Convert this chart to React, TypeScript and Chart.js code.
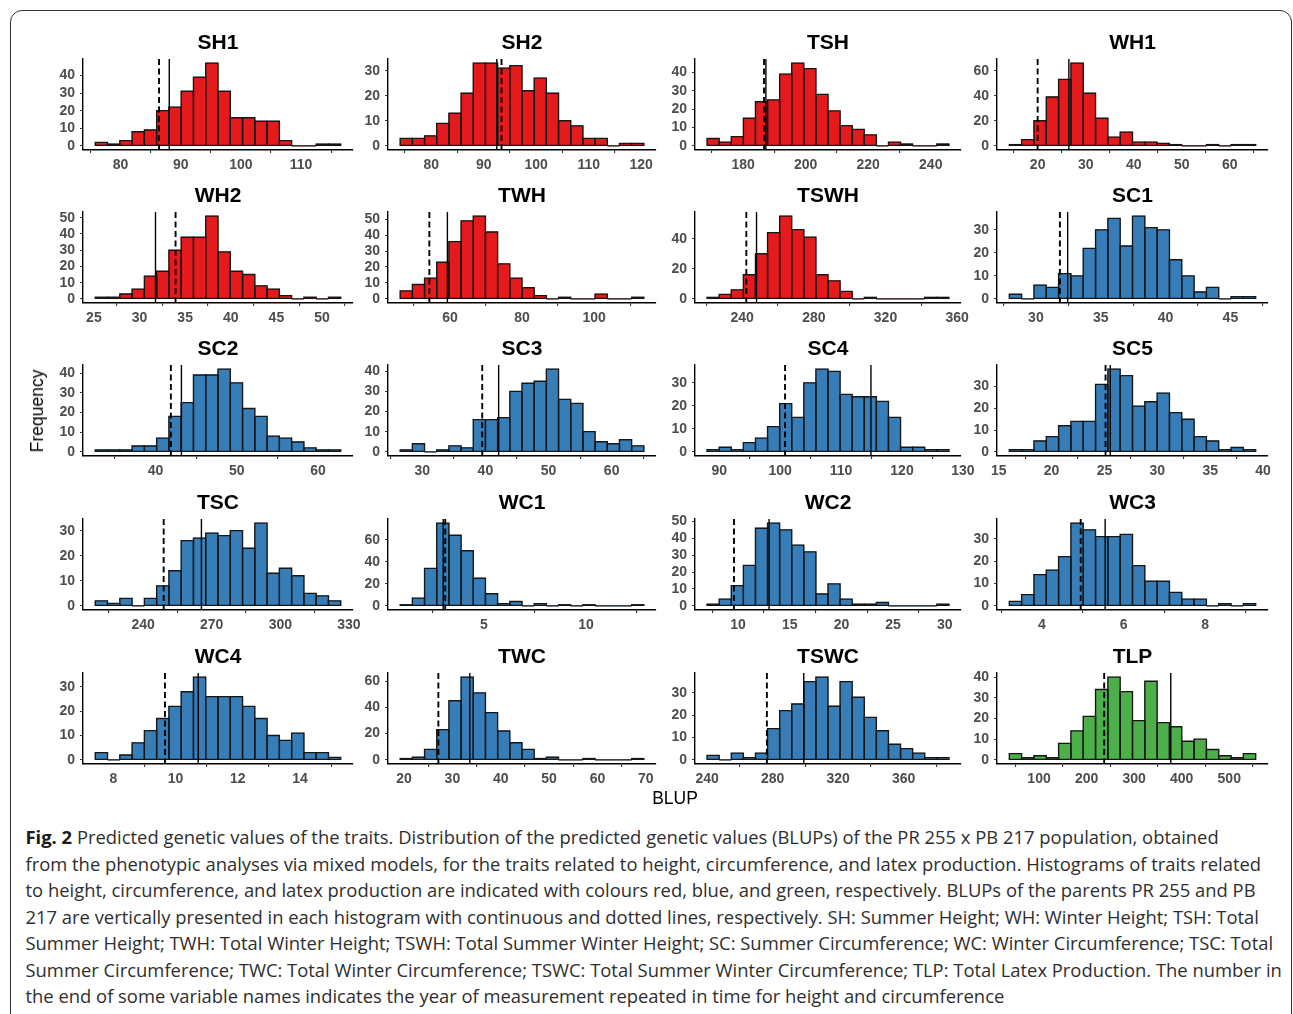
import React, { useEffect, useRef } from 'react';
import { Chart, registerables } from 'chart.js';

Chart.register(...registerables);

// ---------------- data ----------------
const TRAITS = ['SH1', 'SH2', 'TSH', 'WH1', 'WH2', 'TWH', 'TSWH', 'SC1', 'SC2', 'SC3', 'SC4', 'SC5', 'TSC', 'WC1', 'WC2', 'WC3', 'WC4', 'TWC', 'TSWC', 'TLP'];
const TRAIT_GROUP = ['height', 'height', 'height', 'height', 'height', 'height', 'height', 'circ', 'circ', 'circ', 'circ', 'circ', 'circ', 'circ', 'circ', 'circ', 'circ', 'circ', 'circ', 'latex'];

// bin counts (20 bins each)
const SH1 = [2, 1, 3, 8, 9, 20, 22, 31, 39, 47, 31, 16, 16, 14, 14, 3, 0, 0, 1, 1];
const SH2 = [3, 3, 4, 9, 13, 21, 33, 33, 31, 32, 22, 27, 21, 10, 8, 3, 3, 0, 1, 1];
const TSH = [4, 2, 5, 15, 24, 25, 39, 45, 42, 28, 19, 11, 9, 6, 0, 2, 1, 0, 0, 1];
const WH1 = [1, 5, 20, 39, 53, 66, 42, 22, 7, 11, 3, 3, 2, 1, 0, 0, 1, 0, 1, 1];
const WH2 = [1, 1, 3, 6, 14, 17, 30, 38, 38, 51, 29, 17, 15, 8, 6, 2, 0, 1, 0, 1];
const TWH = [5, 9, 13, 23, 36, 49, 52, 42, 22, 13, 7, 2, 0, 1, 0, 0, 3, 0, 0, 1];
const TSWH = [1, 3, 6, 16, 30, 44, 55, 46, 41, 16, 12, 5, 0, 1, 0, 0, 0, 0, 1, 1];
const SC1 = [2, 0, 6, 5, 11, 10, 22, 30, 35, 23, 36, 31, 30, 17, 10, 3, 5, 0, 1, 1];
const SC2 = [1, 1, 1, 3, 3, 7, 18, 25, 39, 39, 42, 35, 22, 18, 8, 7, 5, 2, 1, 1];
const SC3 = [1, 4, 0, 1, 3, 2, 16, 16, 17, 30, 34, 35, 41, 26, 24, 10, 5, 4, 6, 3];
const SC4 = [1, 2, 1, 4, 6, 11, 21, 15, 30, 36, 35, 25, 24, 24, 22, 15, 2, 2, 1, 1];
const SC5 = [1, 1, 5, 7, 12, 14, 14, 31, 38, 35, 21, 23, 27, 18, 15, 7, 5, 1, 2, 1];
const TSC = [2, 1, 3, 0, 3, 8, 14, 26, 27, 29, 28, 30, 23, 33, 13, 15, 12, 5, 4, 2];
const WC1 = [1, 7, 34, 75, 64, 50, 25, 11, 2, 4, 0, 2, 0, 1, 0, 1, 0, 0, 0, 1];
const WC2 = [1, 4, 12, 24, 46, 49, 45, 36, 32, 7, 13, 4, 1, 1, 2, 0, 0, 0, 0, 1];
const WC3 = [2, 5, 14, 16, 22, 37, 34, 31, 31, 32, 18, 11, 11, 6, 3, 3, 0, 1, 0, 1];
const WC4 = [3, 0, 2, 7, 12, 17, 22, 28, 34, 26, 26, 26, 22, 17, 10, 8, 11, 3, 3, 1];
const TWC = [1, 2, 8, 23, 45, 63, 51, 36, 22, 13, 8, 1, 2, 0, 0, 1, 0, 0, 0, 1];
const TSWC = [2, 0, 3, 1, 3, 14, 22, 25, 35, 37, 24, 35, 28, 19, 13, 7, 5, 3, 1, 1];
const TLP = [3, 1, 2, 1, 8, 14, 21, 34, 40, 33, 19, 38, 18, 16, 9, 10, 5, 2, 1, 3];

const COUNTS = [SH1, SH2, TSH, WH1, WH2, TWH, TSWH, SC1, SC2, SC3, SC4, SC5, TSC, WC1, WC2, WC3, WC4, TWC, TSWC, TLP];

// left edge of first bin / right edge of last bin (BLUP units)
const BIN_START = [75.8, 74.1, 168.5, 14.1, 25.15, 46.2, 220.4, 27.95, 32.6, 26.5, 88.0, 16.0, 219.1, 0.89, 7.0, 3.2, 7.42, 19.2, 240.0, 37.5];
const BIN_END = [116.6, 120.5, 245.8, 65.4, 52.05, 113.8, 355.4, 46.95, 62.8, 65.1, 127.7, 39.3, 326.4, 12.84, 30.4, 9.24, 15.31, 69.6, 387.6, 555.6];

// parent BLUPs: PR 255 (continuous line), PB 217 (dotted line)
const PR255 = [88.1, 92.5, 187.3, 26.5, 31.75, 59.3, 248.0, 32.45, 43.2, 42.1, 114.9, 25.55, 265.5, 3.0, 13.0, 5.55, 10.73, 33.6, 299.0, 377.0];
const PB217 = [86.4, 93.4, 186.7, 20.0, 33.95, 54.3, 242.3, 31.85, 41.9, 39.5, 100.8, 25.1, 249.0, 3.1, 9.6, 4.95, 9.66, 27.1, 276.5, 237.0];

const X_TICKS = [
  [80, 90, 100, 110], [80, 90, 100, 110, 120], [180, 200, 220, 240], [20, 30, 40, 50, 60],
  [25, 30, 35, 40, 45, 50], [60, 80, 100], [240, 280, 320, 360], [30, 35, 40, 45],
  [40, 50, 60], [30, 40, 50, 60], [90, 100, 110, 120, 130], [15, 20, 25, 30, 35, 40],
  [240, 270, 300, 330], [5, 10], [10, 15, 20, 25, 30], [4, 6, 8],
  [8, 10, 12, 14], [20, 30, 40, 50, 60, 70], [240, 280, 320, 360], [100, 200, 300, 400, 500],
];
const Y_TICKS = [
  [0, 10, 20, 30, 40], [0, 10, 20, 30], [0, 10, 20, 30, 40], [0, 20, 40, 60],
  [0, 10, 20, 30, 40, 50], [0, 10, 20, 30, 40, 50], [0, 20, 40], [0, 10, 20, 30],
  [0, 10, 20, 30, 40], [0, 10, 20, 30, 40], [0, 10, 20, 30], [0, 10, 20, 30],
  [0, 10, 20, 30], [0, 20, 40, 60], [0, 10, 20, 30, 40, 50], [0, 10, 20, 30],
  [0, 10, 20, 30], [0, 20, 40, 60], [0, 10, 20, 30], [0, 10, 20, 30, 40],
];

const CAPTION_LINES = [
  'Predicted genetic values of the traits. Distribution of the predicted genetic values (BLUPs) of the PR 255 x PB 217 population, obtained',
  'from the phenotypic analyses via mixed models, for the traits related to height, circumference, and latex production. Histograms of traits related',
  'to height, circumference, and latex production are indicated with colours red, blue, and green, respectively. BLUPs of the parents PR 255 and PB',
  '217 are vertically presented in each histogram with continuous and dotted lines, respectively. SH: Summer Height; WH: Winter Height; TSH: Total',
  'Summer Height; TWH: Total Winter Height; TSWH: Total Summer Winter Height; SC: Summer Circumference; WC: Winter Circumference; TSC: Total',
  'Summer Circumference; TWC: Total Winter Circumference; TSWC: Total Summer Winter Circumference; TLP: Total Latex Production. The number in',
  'the end of some variable names indicates the year of measurement repeated in time for height and circumference',
];

// ---------------- styling / layout ----------------
const GROUP_COLOR: Record<string, string> = { height: '#E41A1C', circ: '#377EB8', latex: '#4DAF4A' };
const COL_LEFT = [82.5, 388, 695, 997];
const COL_WIDTH = [269.5, 268, 266, 271];
const ROW_TOP = [59, 212, 365, 519, 673];
const PLOT_H = 91;
const Y_AXIS_W = 40;
const TITLE_H = 29;
const X_AXIS_H = 26;
const PAD_R = 26;
const PAD_B = 2;
const SANS = '"Liberation Sans", Arial, Helvetica, sans-serif';

function Panel({ idx }: { idx: number }) {
  const ref = useRef<HTMLCanvasElement | null>(null);
  const r = Math.floor(idx / 4);
  const c = idx % 4;
  const left = COL_LEFT[c] - Y_AXIS_W;
  const top = ROW_TOP[r] - TITLE_H;
  const width = Math.round(Y_AXIS_W + COL_WIDTH[c] + PAD_R);
  const height = TITLE_H + PLOT_H + X_AXIS_H + PAD_B;

  useEffect(() => {
    if (!ref.current) return;
    const counts = COUNTS[idx];
    const L = BIN_START[idx];
    const R = BIN_END[idx];
    const n = counts.length;
    const w = (R - L) / n;
    const span = R - L;
    const ymaxCount = Math.max(...counts);
    const color = GROUP_COLOR[TRAIT_GROUP[idx]];
    const xt = X_TICKS[idx];
    const yt = Y_TICKS[idx];
    const solid = PR255[idx];
    const dashed = PB217[idx];

    // outline every bar (centred stroke, like ggplot's colour = "black"),
    // then the parents' vertical lines on top
    const overlayPlugin = {
      id: 'histOverlay',
      afterDatasetsDraw(chart: any) {
        const { ctx, chartArea, scales } = chart;
        const meta = chart.getDatasetMeta(0);
        ctx.save();
        ctx.strokeStyle = '#161616';
        ctx.lineWidth = 1.35;
        meta.data.forEach((el: any) => {
          const p = el.getProps(['x', 'y', 'base', 'width'], true);
          ctx.beginPath();
          ctx.rect(p.x - p.width / 2, p.y, p.width, p.base - p.y);
          ctx.stroke();
        });
        ctx.restore();

        const drawLine = (v: number, dash: number[], lw: number) => {
          const x = scales.x.getPixelForValue(v);
          ctx.save();
          ctx.beginPath();
          ctx.setLineDash(dash);
          ctx.lineWidth = lw;
          ctx.strokeStyle = '#000';
          ctx.moveTo(x, chartArea.top);
          ctx.lineTo(x, chartArea.bottom);
          ctx.stroke();
          ctx.restore();
        };
        drawLine(solid, [], 1.4);
        drawLine(dashed, [6, 3.5], 1.9);
      },
    };

    const tickFont = { family: SANS, size: 14, weight: 'bold' as const };
    const chart = new Chart(ref.current, {
      type: 'bar',
      data: {
        datasets: [
          {
            data: counts.map((y, i) => ({ x: L + (i + 0.5) * w, y })),
            backgroundColor: color,
            borderWidth: 0,
            barPercentage: 1,
            categoryPercentage: 1,
          } as any,
        ],
      },
      options: {
        animation: false,
        responsive: false,
        devicePixelRatio: 1,
        events: [],
        layout: { padding: { left: 0, right: PAD_R, top: 0, bottom: PAD_B } },
        plugins: {
          legend: { display: false },
          tooltip: { enabled: false },
          title: {
            display: true,
            text: TRAITS[idx],
            fullSize: false,
            color: '#000',
            font: { family: SANS, size: 21, weight: 'bold', lineHeight: '26px' },
            padding: { top: 0, bottom: 3 },
          },
        },
        scales: {
          x: {
            type: 'linear',
            min: L - 0.05 * span,
            max: R + 0.05 * span,
            offset: false,
            grid: { display: true, drawOnChartArea: false, drawTicks: true, tickLength: 3, color: '#333', lineWidth: 1.1 },
            border: { display: true, color: '#000', width: 1.4 },
            ticks: { font: tickFont, color: '#4d4d4d', padding: 4, maxRotation: 0, autoSkip: false },
            afterBuildTicks: (s: any) => {
              s.ticks = xt.map((v) => ({ value: v }));
            },
            afterFit: (s: any) => {
              s.height = X_AXIS_H;
            },
          },
          y: {
            type: 'linear',
            min: -0.05 * ymaxCount,
            max: 1.05 * ymaxCount,
            grid: { display: true, drawOnChartArea: false, drawTicks: true, tickLength: 3, color: '#333', lineWidth: 1.1 },
            border: { display: true, color: '#000', width: 1.4 },
            ticks: { font: tickFont, color: '#4d4d4d', padding: 5, autoSkip: false },
            afterBuildTicks: (s: any) => {
              s.ticks = yt.map((v) => ({ value: v }));
            },
            afterFit: (s: any) => {
              s.width = Y_AXIS_W;
            },
          },
        },
      } as any,
      plugins: [overlayPlugin],
    });
    return () => chart.destroy();
  }, [idx]);

  return (
    <canvas
      ref={ref}
      width={width}
      height={height}
      style={{ position: 'absolute', left, top, width, height }}
    />
  );
}

export default function App() {
  return (
    <div style={{ position: 'absolute', left: 0, top: 0, width: 1293, height: 1014, overflow: 'hidden', background: '#fff' }}>
      <div
        style={{
          position: 'absolute',
          left: 10,
          top: 10,
          width: 1282,
          height: 1030,
          boxSizing: 'border-box',
          border: '1.5px solid #333',
          borderRadius: 12,
        }}
      />
      {TRAITS.map((_, i) => (
        <Panel key={i} idx={i} />
      ))}
      <div
        style={{
          position: 'absolute',
          left: 37,
          top: 411,
          transform: 'translate(-50%, -50%) rotate(-90deg)',
          fontFamily: SANS,
          fontSize: 17.5,
          color: '#000',
          whiteSpace: 'nowrap',
          lineHeight: '20px',
        }}
      >
        Frequency
      </div>
      <div
        style={{
          position: 'absolute',
          left: 675,
          top: 798,
          transform: 'translate(-50%, -50%)',
          fontFamily: SANS,
          fontSize: 17.5,
          color: '#000',
          whiteSpace: 'nowrap',
          lineHeight: '20px',
        }}
      >
        BLUP
      </div>
      <div
        style={{
          position: 'absolute',
          left: 25.5,
          top: 824,
          fontFamily: '"Open Sans", "Noto Sans", sans-serif',
          fontSize: 18.4,
          lineHeight: '26.5px',
          color: '#2e2e2e',
        }}
      >
        {CAPTION_LINES.map((line, i) => (
          <div key={i} style={{ whiteSpace: 'nowrap' }}>
            {i === 0 ? <b style={{ color: '#1a1a1a' }}>Fig. 2 </b> : null}
            {line}
          </div>
        ))}
      </div>
    </div>
  );
}
